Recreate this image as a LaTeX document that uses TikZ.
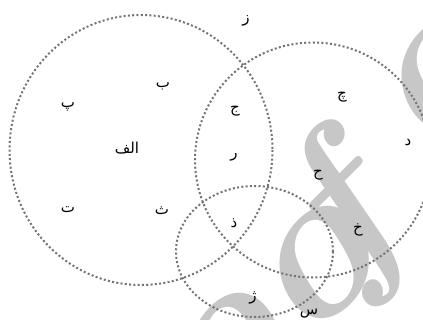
\documentclass[tikz,border=0pt]{standalone}
\usepackage{fontspec}
\TeXXeTstate=1
\newfontfamily\arabicfont[Script=Arabic]{DejaVu Sans}
\begin{document}
\begin{tikzpicture}[x=1pt,y=-1pt,
  wm/.style={inner sep=0pt, outer sep=0pt, rotate=45, text=black!22,
     font=\fontsize{210}{210}\selectfont\bfseries\itshape},
  ring/.style={draw=black!55, line width=2pt, dash pattern=on 2pt off 2.3pt},
  lbl/.style={inner sep=0pt, font=\arabicfont\fontsize{15}{17}\selectfont}]
\clip (0,0) rectangle (423,320);
\useasboundingbox (0,0) rectangle (423,320);
% watermark
\node[wm] (wm1) at (228,358) {o};
\node[wm] (wm2) at (316,271) {o};
\node[wm, font=\fontsize{195}{195}\selectfont\bfseries\itshape] (wm3) at (346,221) {f};
\node[wm] (wm4) at (438,83) {o};
% sets
\draw[ring] (141,150) ellipse [x radius=131.5, y radius=135];
\draw[ring] (313,160) ellipse [x radius=118, y radius=117.5];
\draw[ring] (254.5,251.5) ellipse [x radius=78.5, y radius=65.5];
% labels
\node[lbl] (z)    at (246,21)  {\beginR ز\endR};
\node[lbl] (b)    at (163,86)  {\beginR ب\endR};
\node[lbl] (p)    at (68,107)  {\beginR پ\endR};
\node[lbl] (alef) at (127,148) {\beginR الف\endR};
\node[lbl] (t)    at (68,210)  {\beginR ت\endR};
\node[lbl] (se)   at (162,211) {\beginR ث\endR};
\node[lbl] (jim)  at (235,111) {\beginR ج\endR};
\node[lbl] (re)   at (234,157) {\beginR ر\endR};
\node[lbl] (zal)  at (234,223) {\beginR ذ\endR};
\node[lbl] (che)  at (342,97)  {\beginR چ\endR};
\node[lbl] (dal)  at (408,143) {\beginR د\endR};
\node[lbl] (he)   at (318,175) {\beginR ح\endR};
\node[lbl] (khe)  at (358,230) {\beginR خ\endR};
\node[lbl] (zhe)  at (253,298) {\beginR ژ\endR};
\node[lbl] (sin)  at (309,314) {\beginR س\endR};
\end{tikzpicture}
\end{document}
